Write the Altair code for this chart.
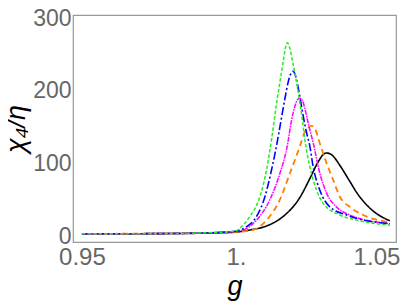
import altair as alt
import pandas as pd

# ---- data ----
black_g = [0.95, 0.97, 0.985, 0.995, 1.0, 1.00455, 1.00997, 1.01536, 1.02078, 1.02403, 1.02662, 1.0282, 1.02932, 1.0305, 1.0315, 1.03377, 1.03701, 1.03919, 1.04416, 1.05]
black_v = [0.2, 0.4, 0.8, 1.6, 2.5, 5.5, 11, 24, 50, 76, 98, 108, 111, 110, 107, 94, 72, 57, 33, 18]

orange_g = [0.95, 0.97, 0.985, 0.995, 1.0, 1.00562, 1.00997, 1.01429, 1.01753, 1.02078, 1.0224, 1.0236, 1.02458, 1.0257, 1.02727, 1.02945, 1.03159, 1.03377, 1.03701, 1.04133, 1.05]
orange_v = [0.2, 0.4, 0.9, 2.0, 2.8, 5.5, 19, 47, 83, 120, 140, 146, 148, 144, 124, 97, 74, 51, 37, 26, 16]

magenta_g = [0.95, 0.97, 0.985, 0.995, 1.0, 1.00237, 1.00672, 1.01104, 1.01429, 1.01666, 1.01808, 1.01916, 1.02, 1.02078, 1.0216, 1.0224, 1.02347, 1.0251, 1.02727, 1.02945, 1.03269, 1.03701, 1.05]
magenta_v = [0.2, 0.4, 1.0, 2.2, 3.5, 5.5, 19, 47, 83, 120, 156, 175, 184, 186, 183, 172, 152, 125, 83, 56, 37, 26, 14]

blue_g = [0.95, 0.97, 0.985, 0.995, 1.0, 1.00347, 1.00672, 1.00942, 1.01159, 1.01373, 1.01484, 1.01591, 1.01698, 1.0178, 1.01851, 1.0192, 1.01971, 1.02078, 1.02185, 1.02289, 1.02403, 1.0251, 1.02727, 1.03052, 1.03594, 1.05]
blue_v = [0.2, 0.4, 1.0, 2.3, 3.8, 10, 24, 51, 88, 133, 160, 185, 208, 219, 223, 219, 211, 188, 162, 140, 120, 92, 60, 37, 26, 14]

green_g = [0.95, 0.97, 0.985, 0.995, 1.0, 1.0013, 1.00455, 1.00779, 1.00997, 1.0116, 1.01321, 1.01429, 1.01536, 1.0161, 1.01672, 1.0174, 1.01862, 1.01971, 1.02055, 1.02159, 1.0224, 1.02403, 1.0262, 1.02834, 1.03377, 1.03919, 1.05]
green_v = [0.2, 0.4, 1.0, 2.5, 4.0, 8, 24, 51, 88, 130, 179, 208, 236, 255, 262, 256, 232, 208, 186, 156, 129, 92, 60, 42, 26, 19, 12]

x_ticks = [0.95, 1.0, 1.05]
y_ticks = [0, 100, 200, 300]

series = [
    ("black", black_g, black_v, "#000000", [1, 0], 1.6),
    ("orange", orange_g, orange_v, "#ff7f00", [6, 4], 1.8),
    ("magenta", magenta_g, magenta_v, "#ff00ff", [5, 1, 1.5, 1], 1.5),
    ("blue", blue_g, blue_v, "#0000ff", [8, 2.5, 2, 2.5], 1.6),
    ("green", green_g, green_v, "#22ee22", [3.5, 2], 1.5),
]

xscale = alt.Scale(domain=[0.9471, 1.052], nice=False, zero=False)
yscale = alt.Scale(domain=[-11, 300], nice=False, zero=False)

xaxis = alt.Axis(
    values=x_ticks, title="g", grid=False, domain=False, ticks=False,
    labelExpr="datum.value == 1 ? '1.' : format(datum.value, '.2f')",
    labelFont="Liberation Sans", labelFontSize=24, labelColor="#666666",
    labelPadding=3, labelFlush=7.5, labelFlushOffset=10, labelOverlap=False,
    titleFont="Liberation Sans", titleFontSize=27, titleFontStyle="italic",
    titleFontWeight="normal", titleColor="#000000", titlePadding=4,
)
yaxis = alt.Axis(
    values=y_ticks, title="χ₄/η", grid=False, domain=False, ticks=False,
    labelFont="Liberation Sans", labelFontSize=23, labelColor="#666666",
    labelPadding=2, labelOffset=3, labelFlush=False, labelOverlap=False,
    titleFont="Liberation Sans", titleFontSize=27, titleFontStyle="italic",
    titleFontWeight="normal", titleColor="#000000", titlePadding=2,
)

frames = []
for name, gs, vs, col, dash, w in series:
    frames.append(pd.DataFrame({"g": gs, "v": vs, "s": name}))

layers = []
for (name, gs, vs, col, dash, w), df in zip(series, frames):
    layers.append(
        alt.Chart(df).mark_line(color=col, strokeDash=dash, strokeWidth=w,
                                interpolate="monotone", clip=True).encode(
            x=alt.X("g:Q", scale=xscale, axis=xaxis),
            y=alt.Y("v:Q", scale=yscale, axis=yaxis),
        )
    )

chart = alt.layer(*layers).properties(
    width=323, height=227,
    autosize=alt.AutoSizeParams(type="none"),
    padding={"left": 65, "top": 7, "right": 11, "bottom": 61},
).configure_view(stroke="#999999", strokeWidth=1.2)

chart.save("out.html", embed_options={"renderer": "svg", "actions": False})
